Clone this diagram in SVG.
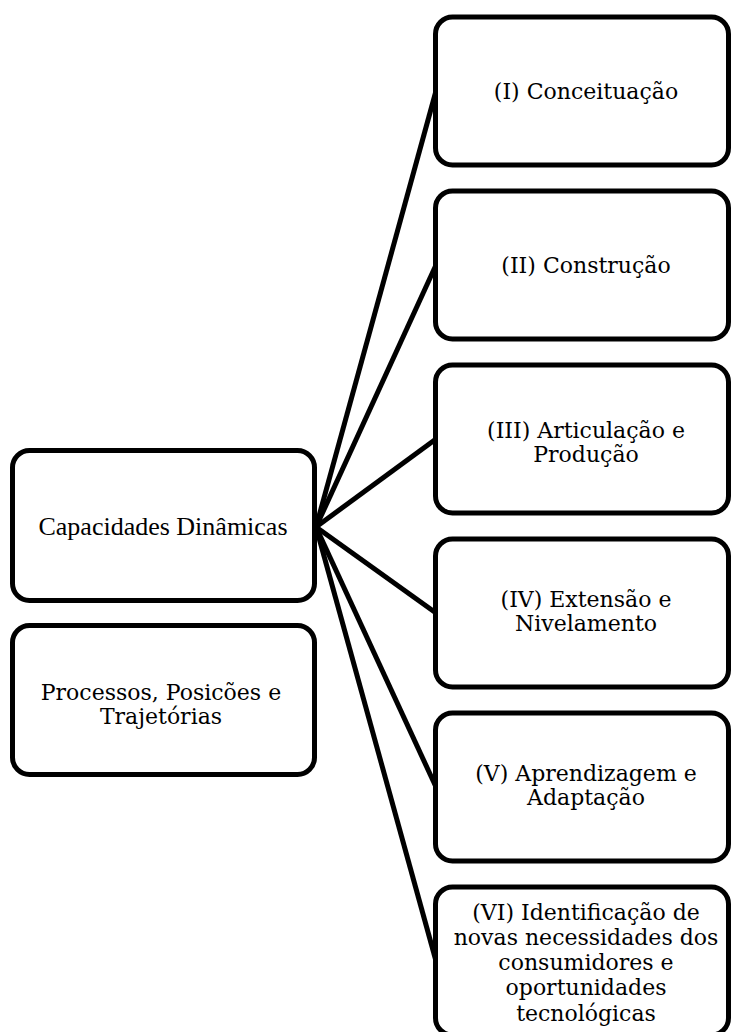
<svg xmlns="http://www.w3.org/2000/svg" width="731" height="1032" viewBox="0 0 731 1032">
<style>
.box{fill:#fff;stroke:#000;stroke-width:5}
.t{font-family:"DejaVu Serif","Liberation Serif",serif;font-size:22px;fill:#000;text-anchor:middle}
.tt{font-family:"Liberation Serif",serif;font-size:26px;fill:#000;text-anchor:middle}
.c{stroke:#000;stroke-width:5;fill:none}
</style>
<rect width="731" height="1032" fill="#fff"/>
<g id="connectors">
<line class="c" x1="316" y1="527" x2="436" y2="91"/>
<line class="c" x1="316" y1="527" x2="436" y2="265"/>
<line class="c" x1="316" y1="527" x2="436" y2="439"/>
<line class="c" x1="316" y1="527" x2="436" y2="613"/>
<line class="c" x1="316" y1="527" x2="436" y2="787"/>
<line class="c" x1="316" y1="527" x2="436" y2="961"/>
</g>
<g id="capacidades">
<rect class="box" x="12.5" y="450.5" width="302" height="150" rx="17"/>
<text class="tt" x="163" y="535">Capacidades Dinâmicas</text>
</g>
<g id="processos">
<rect class="box" x="12.5" y="625.5" width="302" height="149" rx="17"/>
<text class="t" x="161" y="700">Processos, Posicões e</text>
<text class="t" x="161" y="724">Trajetórias</text>
</g>
<g id="n1">
<rect class="box" x="435.5" y="17" width="293" height="148" rx="17"/>
<text class="t" x="586" y="99">(I) Conceituação</text>
</g>
<g id="n2">
<rect class="box" x="435.5" y="191" width="293" height="148" rx="17"/>
<text class="t" x="586" y="273">(II) Construção</text>
</g>
<g id="n3">
<rect class="box" x="435.5" y="365" width="293" height="148" rx="17"/>
<text class="t" x="586" y="438">(III) Articulação e</text>
<text class="t" x="586" y="462">Produção</text>
</g>
<g id="n4">
<rect class="box" x="435.5" y="539" width="293" height="148" rx="17"/>
<text class="t" x="586" y="607">(IV) Extensão e</text>
<text class="t" x="586" y="631">Nivelamento</text>
</g>
<g id="n5">
<rect class="box" x="435.5" y="713" width="293" height="148" rx="17"/>
<text class="t" x="586" y="781">(V) Aprendizagem e</text>
<text class="t" x="586" y="805">Adaptação</text>
</g>
<g id="n6">
<rect class="box" x="435.5" y="887" width="293" height="148" rx="17"/>
<text class="t" x="586" y="920">(VI) Identificação de</text>
<text class="t" x="586" y="945">novas necessidades dos</text>
<text class="t" x="586" y="970">consumidores e</text>
<text class="t" x="586" y="995">oportunidades</text>
<text class="t" x="586" y="1021">tecnológicas</text>
</g>
</svg>
